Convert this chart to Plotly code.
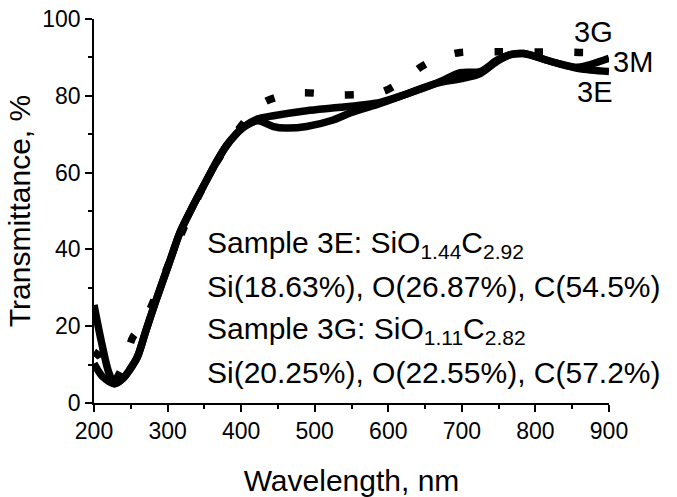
import plotly.graph_objects as go

# ---- data ----
wl_3E = [200, 212, 228, 240, 248, 259, 270, 283, 294, 305, 317, 335, 353, 368, 380, 392, 403, 423, 444, 489, 535, 589, 621, 666, 698, 725, 748, 766, 784, 820, 848, 861, 900]
T_3E  = [10.3, 6.8, 5.0, 6.5, 8.5, 12.0, 18.5, 26.0, 32.0, 38.0, 44.5, 51.5, 58.0, 63.3, 67.0, 69.8, 71.8, 74.0, 74.8, 76.1, 77.0, 78.3, 80.2, 83.3, 86.0, 86.3, 89.3, 90.7, 91.0, 89.0, 87.6, 87.0, 86.3]

wl_3M = [200, 210, 220, 228, 240, 248, 259, 270, 283, 294, 305, 317, 335, 353, 368, 380, 392, 403, 423, 444, 460, 489, 525, 548, 589, 621, 666, 700, 725, 748, 766, 784, 820, 848, 861, 900]
T_3M  = [25.5, 16.0, 8.0, 5.0, 6.5, 8.5, 12.0, 18.5, 26.0, 32.0, 38.0, 44.5, 51.5, 58.0, 63.3, 67.0, 69.8, 71.8, 73.5, 72.0, 71.6, 72.0, 73.7, 75.5, 78.0, 80.2, 83.3, 84.5, 85.8, 89.0, 90.7, 91.0, 89.0, 87.6, 87.5, 89.8]

wl_3G = [200, 208, 218, 226, 238, 253, 265, 283, 300, 330, 360, 387, 410, 430, 455, 484, 537, 591, 620, 645, 670, 698, 752, 806, 860, 900]
T_3G  = [13.3, 12.0, 7.0, 5.5, 9.0, 17.2, 20.0, 27.5, 35.5, 49.0, 60.5, 68.8, 74.5, 78.2, 80.0, 80.8, 80.2, 81.0, 84.0, 87.6, 90.0, 91.3, 91.5, 91.4, 91.3, 91.2]

series_names = ["3G", "3M", "3E"]
x_ticks = [200, 300, 400, 500, 600, 700, 800, 900]
y_ticks = [0, 20, 40, 60, 80, 100]

text_lines = [
    "Sample 3E: SiO<sub>1.44</sub>C<sub>2.92</sub>",
    "Si(18.63%), O(26.87%), C(54.5%)",
    "Sample 3G: SiO<sub>1.11</sub>C<sub>2.82</sub>",
    "Si(20.25%), O(22.55%), C(57.2%)",
]

# ---- layout geometry ----
W, H = 677, 497
L, R, T, B = 94, 68, 19, 94
PW, PH = W - L - R, H - T - B
FONT = "Liberation Sans, Arial, sans-serif"

def px_x(xp):
    return (xp - L) / PW

def px_y(yp):
    return (H - B - yp) / PH

fig = go.Figure()
fig.add_trace(go.Scatter(x=wl_3G, y=T_3G, mode="lines", name=series_names[0],
                         line=dict(color="black", width=7.5, dash="9px,31px", shape="spline", smoothing=0.8)))
fig.add_trace(go.Scatter(x=wl_3M, y=T_3M, mode="lines", name=series_names[1],
                         line=dict(color="black", width=7.5, shape="spline", smoothing=0.8)))
fig.add_trace(go.Scatter(x=wl_3E, y=T_3E, mode="lines", name=series_names[2],
                         line=dict(color="black", width=7.5, shape="spline", smoothing=0.8)))

annotations = []
# curve labels
for name, (cx, cy) in zip(series_names, [(593, 32), (633, 62), (594, 92)]):
    annotations.append(dict(text=name, x=px_x(cx), y=px_y(cy), xref="paper", yref="paper",
                            xanchor="center", yanchor="middle", showarrow=False,
                            font=dict(family=FONT, size=29, color="black")))
# composition text
for line, cy, shift in zip(text_lines, [238, 286, 324, 372], [-6, 0, -6, 0]):
    annotations.append(dict(text=line, x=px_x(205), y=px_y(cy), xref="paper", yref="paper",
                            xanchor="left", yanchor="middle", showarrow=False, yshift=shift,
                            font=dict(family=FONT, size=30, color="black")))

fig.update_layout(
    width=W, height=H,
    margin=dict(l=L, r=R, t=T, b=B, autoexpand=False),
    paper_bgcolor="white", plot_bgcolor="white",
    showlegend=False,
    font=dict(family=FONT, color="black"),
    annotations=annotations,
    xaxis=dict(range=[200, 900], tickvals=x_ticks, ticks="outside", ticklen=7, tickwidth=1.5,
               tickcolor="black", showline=True, linecolor="black", linewidth=1.5,
               showgrid=False, zeroline=False, tickfont=dict(family=FONT, size=23, color="black"),
               minor=dict(dtick=50, ticks="outside", ticklen=4, tickwidth=1.5, tickcolor="black"),
               title=dict(text="Wavelength, nm", font=dict(family=FONT, size=30, color="black"), standoff=30)),
    yaxis=dict(range=[0, 100], tickvals=y_ticks, ticks="outside", ticklen=7, tickwidth=1.5,
               tickcolor="black", showline=True, linecolor="black", linewidth=1.5,
               showgrid=False, zeroline=False, tickfont=dict(family=FONT, size=23, color="black"),
               minor=dict(dtick=10, ticks="outside", ticklen=4, tickwidth=1.5, tickcolor="black"),
               title=dict(text="Transmittance, %", font=dict(family=FONT, size=30, color="black"), standoff=3)),
)

fig.write_html("out.html")
